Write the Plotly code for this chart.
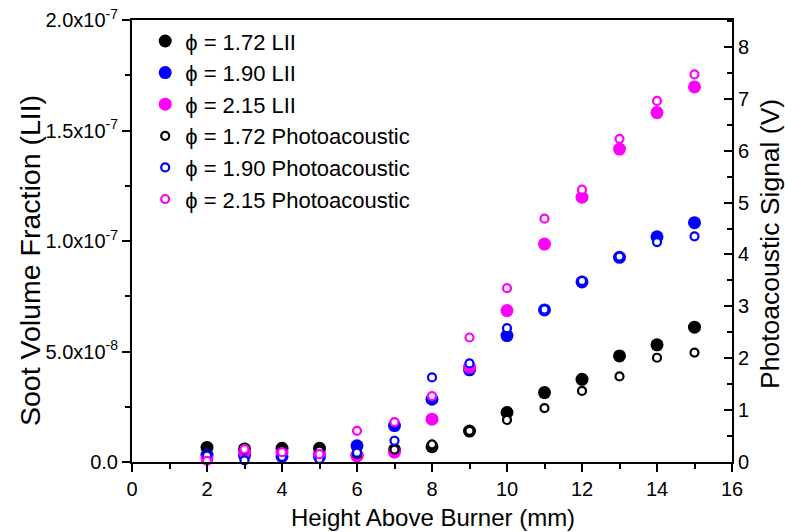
import plotly.graph_objects as go

# Data
hab = [2, 3, 4, 5, 6, 7, 8, 9, 10, 11, 12, 13, 14, 15]  # Height above burner (mm)

# Soot volume fraction from LII (units of 1e-8)
lii_172 = [0.66, 0.59, 0.62, 0.62, 0.30, 0.55, 0.69, 1.40, 2.24, 3.14, 3.74, 4.80, 5.30, 6.10]
lii_190 = [0.31, 0.30, 0.25, 0.25, 0.73, 1.65, 2.84, 4.17, 5.72, 6.88, 8.15, 9.26, 10.19, 10.83]
lii_215 = [0.15, 0.46, 0.44, 0.36, 0.27, 0.45, 1.94, 4.29, 6.85, 9.86, 11.98, 14.16, 15.81, 16.97]

# Photoacoustic signal (V)
pa_172 = [0.14, 0.24, 0.22, 0.22, 0.15, 0.24, 0.34, 0.60, 0.81, 1.04, 1.37, 1.65, 2.01, 2.11]
pa_190 = [0.12, 0.03, 0.10, 0.06, 0.18, 0.41, 1.63, 1.90, 2.58, 2.94, 3.49, 3.96, 4.24, 4.35]
pa_215 = [0.02, 0.25, 0.19, 0.15, 0.60, 0.77, 1.27, 2.40, 3.35, 4.69, 5.25, 6.23, 6.96, 7.47]

lii_tickvals = [0, 5e-8, 1e-7, 1.5e-7, 2e-7]
lii_ticktext = ["0.0", "5.0x10<sup>-8</sup>", "1.0x10<sup>-7</sup>",
                "1.5x10<sup>-7</sup>", "2.0x10<sup>-7</sup>"]
lii_minor = [2.5e-8, 7.5e-8, 1.25e-7, 1.75e-7]

x_title = "Height Above Burner (mm)"
y_title = "Soot Volume Fraction (LII)"
y2_title = "Photoacoustic Signal (V)"

colors = {"1.72": "#000000", "1.90": "#0000ff", "2.15": "#ff00ff"}
PHI = "\u03d5"

fig = go.Figure()

for key, vals in (("1.72", lii_172), ("1.90", lii_190), ("2.15", lii_215)):
    fig.add_trace(go.Scatter(
        x=hab, y=[v * 1e-8 for v in vals], mode="markers",
        name=f"{PHI} = {key} LII", yaxis="y", cliponaxis=False,
        marker=dict(symbol="circle", size=13, color=colors[key], line=dict(width=0)),
    ))

for key, vals in (("1.72", pa_172), ("1.90", pa_190), ("2.15", pa_215)):
    fig.add_trace(go.Scatter(
        x=hab, y=vals, mode="markers",
        name=f"{PHI} = {key} Photoacoustic", yaxis="y2", cliponaxis=False,
        marker=dict(symbol="circle", size=8, color="white",
                    line=dict(width=2.2, color=colors[key])),
    ))

font_family = "Liberation Sans, Arial, sans-serif"

# plot area geometry in pixels (for placing axis titles)
L, R, T, B = 132, 732, 20, 462
W, H = R - L, B - T

fig.update_layout(
    width=785, height=532,
    margin=dict(l=L, r=785 - R, t=T, b=532 - B),
    paper_bgcolor="white", plot_bgcolor="white",
    font=dict(family=font_family, size=20, color="black"),
    showlegend=True,
    legend=dict(x=0.022, y=0.9995, xanchor="left", yanchor="top",
                bgcolor="rgba(0,0,0,0)", borderwidth=0,
                font=dict(size=22), itemsizing="trace"),
    xaxis=dict(
        range=[0, 16], tickmode="linear", tick0=0, dtick=2, automargin=False,
        showgrid=False, zeroline=False,
        showline=True, linecolor="black", linewidth=2, mirror=True,
        ticks="outside", ticklen=8, tickwidth=2, tickcolor="black",
        minor=dict(dtick=1, tick0=0, ticks="outside", ticklen=5, tickwidth=2, tickcolor="black"),
    ),
    yaxis=dict(
        range=[0, 2e-7], tickmode="array", tickvals=lii_tickvals, ticktext=lii_ticktext,
        automargin=False, showgrid=False, zeroline=False,
        showline=True, linecolor="black", linewidth=2,
        ticks="outside", ticklen=8, tickwidth=2, tickcolor="black",
        minor=dict(tickvals=lii_minor, ticks="outside", ticklen=5, tickwidth=2, tickcolor="black"),
    ),
    yaxis2=dict(
        range=[0, 8.52], overlaying="y", side="right", anchor="x", automargin=False,
        tickmode="linear", tick0=0, dtick=1,
        showgrid=False, zeroline=False,
        showline=True, linecolor="black", linewidth=2,
        ticks="inside", ticklen=8, tickwidth=2, tickcolor="black",
        minor=dict(dtick=0.5, tick0=0, ticks="inside", ticklen=5, tickwidth=2, tickcolor="black"),
    ),
    annotations=[
        dict(text=x_title, xref="paper", yref="paper",
             x=(433 - L) / W, y=(B - 517) / H, xanchor="center", yanchor="middle",
             showarrow=False, font=dict(size=24)),
        dict(text=y_title, xref="paper", yref="paper", textangle=-90,
             x=(30 - L) / W, y=(B - 261) / H, xanchor="center", yanchor="middle",
             showarrow=False, font=dict(size=28.5)),
        dict(text=y2_title, xref="paper", yref="paper", textangle=-90,
             x=(770 - L) / W, y=(B - 244) / H, xanchor="center", yanchor="middle",
             showarrow=False, font=dict(size=26.5)),
    ],
)

fig.write_html("out.html")
